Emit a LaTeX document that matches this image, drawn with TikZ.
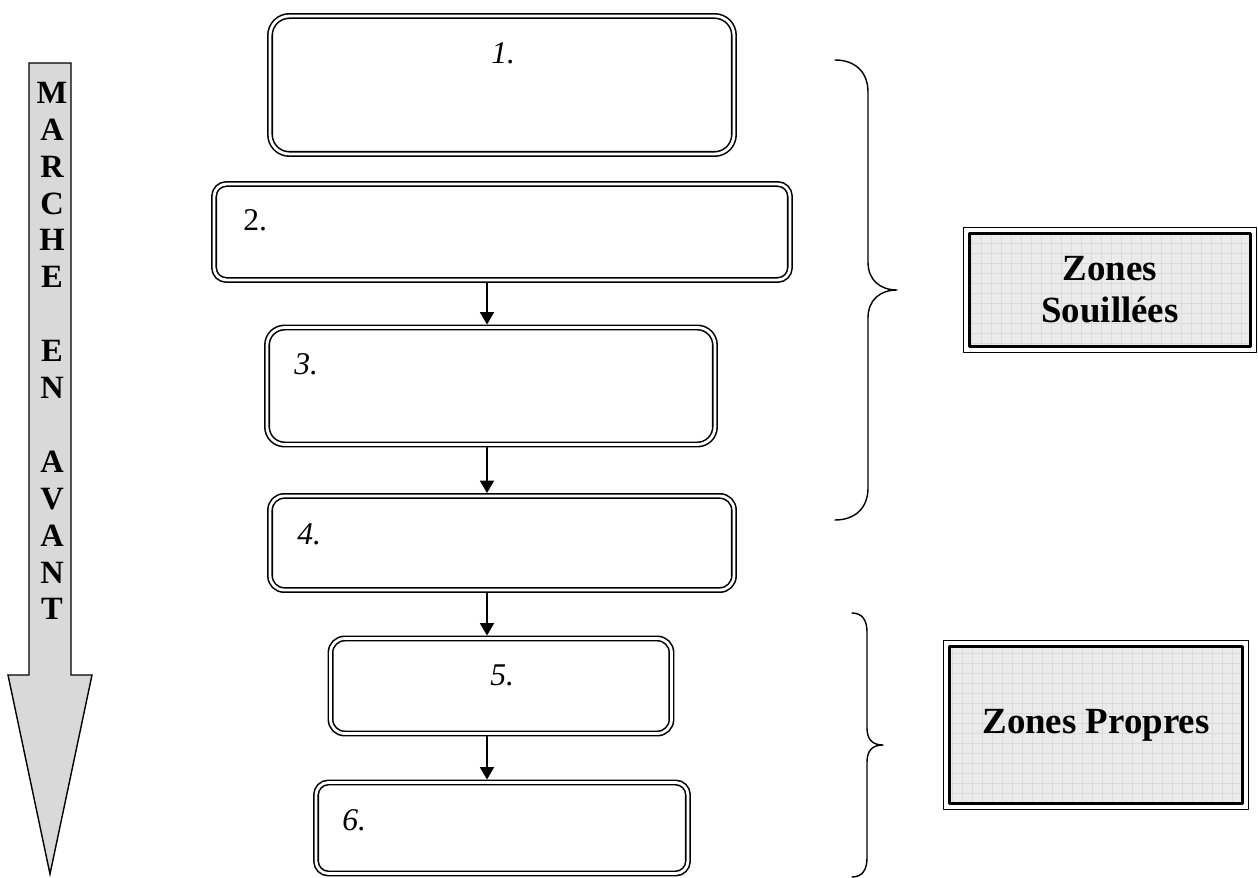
\documentclass[tikz,border=0pt]{standalone}
\usepackage{fontspec}
\setmainfont{Liberation Serif}
\usetikzlibrary{arrows.meta}
\tikzset{>=latex}
\tikzset{every text node part/.style={align=center}}
\tikzset{etape/.style={draw, double, double distance=1.6pt, line width=0.9pt, rounded corners=8pt, inner sep=0pt, outer sep=0pt}}
\tikzset{num/.style={font=\fontsize{18}{21}\selectfont\itshape, inner sep=0pt, anchor=west}}
\tikzset{fleche/.style={line width=0.6pt, shorten <=1.7pt, shorten >=1.7pt, -{Triangle[length=7pt, width=8pt]}}}
\tikzset{zone/.style={draw, line width=1.6pt, fill=black!8, inner sep=0pt, outer sep=0pt, font=\fontsize{21}{24}\selectfont\bfseries,
	path picture={\draw[black!14, line width=0.3pt, step=0.2cm] (path picture bounding box.south west) grid (path picture bounding box.north east);}}}
\tikzset{accolade/.style={line width=0.8pt}}

\begin{document}
\begin{tikzpicture}[x=0.02cm, y=-0.02cm, line cap=round, line join=round]
	\useasboundingbox (0,0) rectangle (1258,878);
	
	% Marche en avant
	\draw[line width=0.8pt, line join=miter, fill=black!15] (29,63) -- (71,63) -- (71,675) -- (92,675) -- (50,874) -- (8,675) -- (29,675) -- cycle;
	\node[font=\fontsize{18.5}{21}\selectfont\bfseries, inner sep=0pt] (marche) at (52,351) {M\\A\\R\\C\\H\\E\\[21pt]E\\N\\[21pt]A\\V\\A\\N\\T};
	
	% Etapes
	\node[etape, minimum width=9.28cm, minimum height=2.76cm, rounded corners=11pt] (b1) at (502,85) {};
	\node[etape, minimum width=11.52cm, minimum height=1.92cm, rounded corners=7pt] (b2) at (502,232) {};
	\node[etape, minimum width=8.96cm, minimum height=2.34cm, rounded corners=10pt] (b3) at (491,386) {};
	\node[etape, minimum width=9.28cm, minimum height=1.88cm] (b4) at (502,543) {};
	\node[etape, minimum width=6.82cm, minimum height=1.9cm] (b5) at (501,686) {};
	\node[etape, minimum width=7.44cm, minimum height=1.82cm, rounded corners=7pt] (b6) at (502,828) {};
	
	% Numeros
	\node[num] (n1) at (491,53) {1.};
	\node[num, font=\fontsize{18}{21}\selectfont] (n2) at (243,220) {2.};
	\node[num] (n3) at (294,364) {3.};
	\node[num] (n4) at (297,534) {4.};
	\node[num] (n5) at (490,675) {5.};
	\node[num] (n6) at (342,820) {6.};
	
	% Fleches
	\coordinate (axe) at (487,0);
	\draw[fleche] (b2.south -| axe) -- (b3.north -| axe);
	\draw[fleche] (b3.south -| axe) -- (b4.north -| axe);
	\draw[fleche] (b4.south -| axe) -- (b5.north -| axe);
	\draw[fleche] (b5.south -| axe) -- (b6.north -| axe);
	
	% Accolades
	\draw[accolade] (835,60) .. controls (855,60) and (868,72) .. (868,92) -- (868,262) .. controls (868,280) and (880,290) .. (897,290) .. controls (880,290) and (868,300) .. (868,318) -- (868,488) .. controls (868,508) and (855,520) .. (835,520);
	\draw[accolade] (852,613) .. controls (862,613) and (867,620) .. (867,632) -- (867,728) .. controls (867,740) and (873,745) .. (883,745) .. controls (873,745) and (867,750) .. (867,762) -- (867,858) .. controls (867,870) and (862,877) .. (852,877);
	
	% Zones
	\node[zone, minimum width=5.62cm, minimum height=2.26cm] (zs) at (1110,290) {Zones\\Souillées};
	\draw[line width=0.5pt] ([xshift=-3.4pt, yshift=3.4pt]zs.north west) rectangle ([xshift=3.4pt, yshift=-3.4pt]zs.south east);
	\node[zone, minimum width=5.86cm, minimum height=3.14cm] (zp) at (1096,725) {Zones Propres};
	\draw[line width=0.5pt] ([xshift=-3.4pt, yshift=3.4pt]zp.north west) rectangle ([xshift=3.4pt, yshift=-3.4pt]zp.south east);
\end{tikzpicture}
\end{document}
